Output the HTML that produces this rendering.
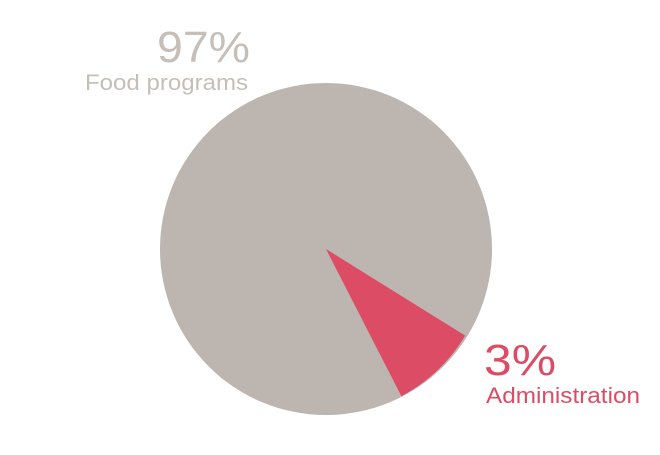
<!DOCTYPE html>
<html><head><style>body{margin:0;background:#fff}</style></head><body>
<svg width="660" height="450" xmlns="http://www.w3.org/2000/svg" font-family="Liberation Sans, Arial, sans-serif">
<circle cx="326" cy="249" r="166" fill="#bdb5af"/>
<path d="M326,249 L465.2,335.6 A166,166 0 0 1 401.4,396.2 Z" fill="#dc4c64"/>
<text x="157" y="62" font-size="44" fill="#c6beb8" textLength="93" lengthAdjust="spacingAndGlyphs">97%</text>
<text x="85" y="90" font-size="22" fill="#c6beb8" textLength="163" lengthAdjust="spacingAndGlyphs">Food programs</text>
<text x="484" y="375" font-size="44" fill="#dc4c64" textLength="72" lengthAdjust="spacingAndGlyphs">3%</text>
<text x="486" y="403" font-size="22" fill="#dc4c64" textLength="154" lengthAdjust="spacingAndGlyphs">Administration</text>
</svg>
</body></html>
